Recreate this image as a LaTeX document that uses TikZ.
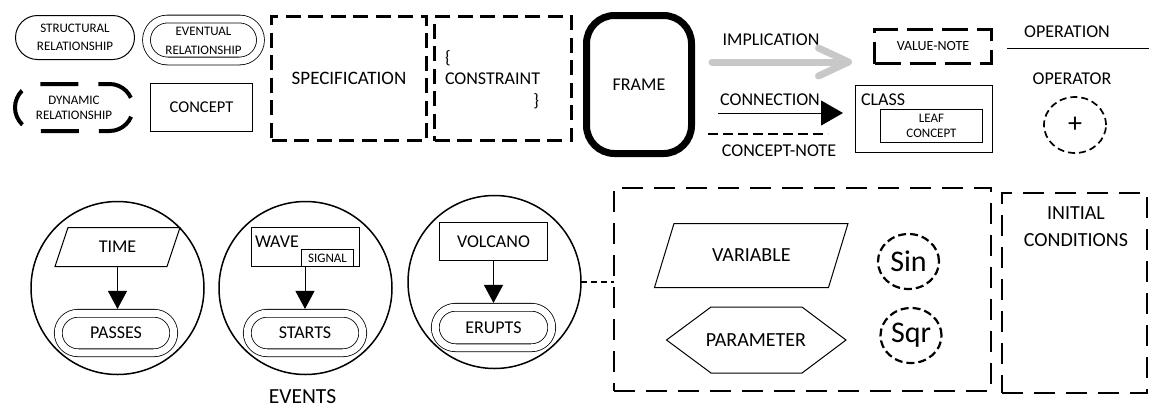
\documentclass[tikz,border=0pt]{standalone}
\usepackage{fontspec}
\setmainfont{Carlito}
\usetikzlibrary{arrows.meta,shapes.geometric,shapes.misc}
\newcommand\setfs[2]{\fontsize{#1}{#2}\selectfont}
\definecolor{implgray}{RGB}{200,200,200}
\begin{document}
\begin{tikzpicture}[x=1pt,y=-1pt,
  every node/.style={inner sep=0pt,outer sep=0pt,font=\setfs{18}{22}},
  thinbox/.style={draw,line width=1pt,rectangle},
  thinline/.style={line width=1pt},
  stadium/.style={draw,line width=1pt,rounded rectangle},
  dstadium/.style={draw,line width=0.8pt,rounded rectangle,double,double distance=7pt},
  heavydash/.style={draw,line width=2.7pt,dash pattern=on 15pt off 7.5pt},
  bigdash/.style={draw,line width=2.7pt,dash pattern=on 21pt off 11pt},
  fndash/.style={draw,line width=2pt,ellipse,dash pattern=on 7pt off 4pt},
  ring/.style={draw,circle,line width=1.5pt,minimum size=173pt},
  flow/.style={line width=1pt,-{Triangle[length=18pt,width=19pt]},shorten >=4.3pt},
  small/.style={font=\setfs{13}{#1},align=center}
]
\useasboundingbox (0,0) rectangle (1149,408);

% ---- legend: relationships and concept
\node[stadium,small=18,minimum width=119pt,minimum height=44pt] (structural)
  at (75,37.5) {STRUCTURAL\\RELATIONSHIP};
\node[dstadium,minimum width=114pt,minimum height=42pt] (eventual)
  at (203.5,40) {};
\node[small=19] (eventualtext) at (203.5,40.5) {EVENTUAL\\RELATIONSHIP};
% dynamic relationship: heavy dashed stadium, traced from its right end
\draw[line width=4pt,dash pattern=on 38pt off 20pt,dash phase=48pt]
  (133,107.5) arc[start angle=0,end angle=90,radius=23.5pt]
  -- (38.5,84) arc[start angle=90,end angle=270,radius=23.5pt]
  -- (109.5,131) arc[start angle=270,end angle=360,radius=23.5pt];
\node[small=15] (dynamic) at (74,107.5) {DYNAMIC\\RELATIONSHIP};
\node[thinbox,minimum width=102pt,minimum height=48pt,font=\setfs{16.5}{20}] (concept)
  at (201.5,107.5) {CONCEPT};

% ---- specification and constraint
\node[heavydash,minimum width=155pt,minimum height=124pt,font=\setfs{19}{22}] (spec)
  at (349,78.5) {SPECIFICATION};
\node[heavydash,minimum width=137pt,minimum height=124pt] (constraint)
  at (503,78.5) {};
\node[anchor=west] (cbopen) at (445,58) {\{};
\node[anchor=west] (ctext) at (445,79) {CONSTRAINT};
\node[anchor=east] (cbclose) at (539,101) {\}};

% ---- frame
\node[draw,line width=7pt,rounded corners=28pt,minimum width=105pt,
  minimum height=138pt] (frame) at (639,84.5) {FRAME};

% ---- link kinds
\node (impl) at (771,40) {IMPLICATION};
\coordinate (implA) at (712,62);
\coordinate (implB) at (852,62);
\draw[implgray,line width=7pt,line cap=round,
  -{Straight Barb[length=30pt,width=28pt,round]}] (implA) -- (implB);

\node (conn) at (770,100) {CONNECTION};
\coordinate (connA) at (718,113);
\coordinate (connB) at (843,113);
\draw[thinline,-{Triangle[length=22pt,width=25pt]}] (connA) -- (connB);

\coordinate (noteA) at (708,134);
\coordinate (noteB) at (828,134);
\draw[line width=1.8pt,dash pattern=on 10pt off 5pt] (noteA) -- (noteB);
\node (cnote) at (779,151) {CONCEPT-NOTE};

% ---- value note and class
\node[draw,line width=2.7pt,dash pattern=on 26pt off 9pt,minimum width=117pt,
  minimum height=34pt,font=\setfs{14}{17}] (valnote) at (933,46.5) {VALUE-NOTE};
\node[thinbox,minimum width=137pt,minimum height=67pt] (class) at (924,119) {};
\node[anchor=west] (classtext) at (861,100) {CLASS};
\node[thinbox,minimum width=102pt,minimum height=33pt,small=15] (leaf)
  at (931.5,126) {LEAF\\CONCEPT};

% ---- operation and operator
\node (operation) at (1067,32) {OPERATION};
\coordinate (opA) at (1007,48);
\coordinate (opB) at (1149,48);
\draw[thinline] (opA) -- (opB);
\node (operatortext) at (1072,79) {OPERATOR};
\node[fndash,line width=1.7pt,minimum width=62pt,minimum height=56pt,
  font=\setfs{28}{32}] (operator) at (1075,125) {+};

% ---- events
\node[ring] (ev1) at (117.5,288) {};
\draw[thinline] (55,266.5) -- (68,227.5) -- (180,227.5) -- (167,266.5) -- cycle;
\node[minimum width=100pt,minimum height=39pt] (time) at (117.5,247) {TIME};
\node[dstadium,minimum width=115.5pt,minimum height=39.5pt] (passes)
  at (116,333) {PASSES};
\draw[flow] (time) -- (time |- passes.north);

\node[ring] (ev2) at (305.5,288) {};
\node[thinbox,minimum width=108pt,minimum height=39pt] (wave) at (305.5,247) {};
\node[anchor=west] (wavetext) at (255,242) {WAVE};
\node[thinbox,minimum width=52pt,minimum height=17pt,font=\setfs{13}{15}]
  (signal) at (327.5,258) {SIGNAL};
\node[dstadium,minimum width=115.5pt,minimum height=39.5pt] (starts)
  at (305,333) {STARTS};
\draw[flow] (wave.south -| starts) -- (starts.north);

\node[ring] (ev3) at (494.5,282) {};
\node[thinbox,minimum width=108pt,minimum height=38pt] (volcano)
  at (493.5,241.5) {VOLCANO};
\node[dstadium,minimum width=116.5pt,minimum height=40.5pt] (erupts)
  at (493.5,327.5) {ERUPTS};
\draw[flow] (volcano) -- (erupts.north);

\node[font=\setfs{21.5}{26}] (events) at (302.5,397) {EVENTS};

% ---- operands
\node[bigdash,minimum width=377pt,minimum height=203pt] (ops) at (802.5,289.5) {};
\draw[line width=2pt,dash pattern=on 6pt off 4pt] (ev3.east) -- (ev3.east -| ops.west);
\draw[thinline] (654.5,287.5) -- (674,223.5) -- (848,223.5) -- (828.5,287.5) -- cycle;
\node[font=\setfs{20}{24}] (variable) at (751.25,255.5) {VARIABLE};
\draw[thinline] (666.5,340) -- (711,307) -- (802,307) -- (846,340)
  -- (802,373) -- (711,373) -- cycle;
\node[font=\setfs{20}{24}] (parameter) at (756,340) {PARAMETER};
\node[fndash,line width=2.2pt,dash pattern=on 8pt off 4pt,minimum width=61pt,
  minimum height=55pt,font=\setfs{30}{34}] (sin) at (908.5,261.5) {Sin};
\node[fndash,line width=2.2pt,dash pattern=on 8pt off 4pt,minimum width=61pt,
  minimum height=55pt,font=\setfs{30}{34}] (sqr) at (911,335.5) {Sqr};

\node[bigdash,minimum width=145pt,minimum height=200pt] (init) at (1074.5,293) {};
\node[font=\setfs{20}{27},align=center] (inittext) at (1076,227) {INITIAL\\CONDITIONS};
\end{tikzpicture}
\end{document}
